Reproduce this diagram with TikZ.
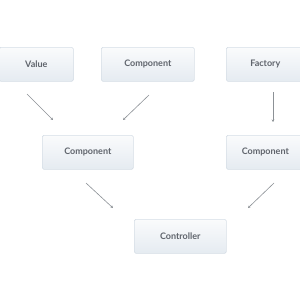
\documentclass[tikz,border=0pt]{standalone}
\usepackage{fontspec}
\setmainfont{Lato}
\usetikzlibrary{arrows.meta}
\definecolor{boxline}{RGB}{214,222,230}
\definecolor{boxtop}{RGB}{250,251,252}
\definecolor{boxbot}{RGB}{229,235,241}
\definecolor{txt}{RGB}{95,100,108}
\definecolor{arr}{RGB}{140,145,150}
\tikzset{
  box/.style={draw=boxline, line width=0.6pt, rounded corners=1.5pt,
    top color=boxtop, bottom color=boxbot, minimum height=34pt,
    text=txt, font=\fontsize{9}{10}\selectfont\bfseries, anchor=north west, inner sep=0pt},
  conn/.style={draw=arr, line width=0.6pt, -{Stealth[length=2.5pt,width=2.5pt]}}
}
\begin{document}
\begin{tikzpicture}[x=1pt,y=-1pt]
\useasboundingbox (0,0) rectangle (300,300);
\fill[white] (0,0) rectangle (300,300);
\node[box, minimum width=74pt] (value) at (-1,47) {Value};
\node[box, minimum width=93pt] (comp1) at (101,47) {Component};
\node[box, minimum width=78pt] (factory) at (226,47) {Factory};
\node[box, minimum width=91pt] (comp2) at (42,135) {Component};
\node[box, minimum width=78pt] (comp3) at (226,135) {Component};
\node[box, minimum width=92pt] (ctrl) at (134,219) {Controller};
\coordinate (a1) at (27,94);
\coordinate (b1) at (53,120);
\coordinate (a2) at (149,95);
\coordinate (b2) at (123,120);
\coordinate (a3) at (273,92);
\coordinate (b3) at (273,122);
\coordinate (a4) at (86,183);
\coordinate (b4) at (113,208);
\coordinate (a5) at (274,183);
\coordinate (b5) at (248,208);
\draw[conn] (a1) -- (b1);
\draw[conn] (a2) -- (b2);
\draw[conn] (a3) -- (b3);
\draw[conn] (a4) -- (b4);
\draw[conn] (a5) -- (b5);
\end{tikzpicture}
\end{document}
